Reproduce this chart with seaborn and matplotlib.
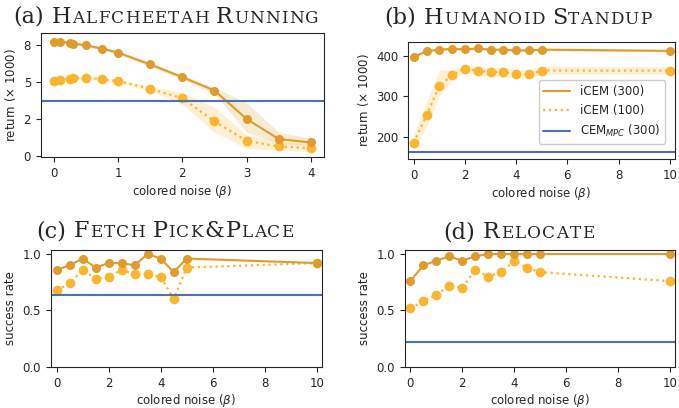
import numpy as np
import pandas as pd
import matplotlib
matplotlib.use("Agg")
import matplotlib.pyplot as plt
from matplotlib.lines import Line2D
import seaborn as sns

# ---- data ----
hc_beta = [0, 0.1, 0.25, 0.3, 0.5, 0.75, 1, 1.5, 2, 2.5, 3, 3.5, 4]
hc_icem300 = [7.73, 7.73, 7.68, 7.61, 7.5, 7.27, 7.0, 6.2, 5.34, 4.43, 2.5, 1.14, 0.91]
hc_icem300_lo = [7.63, 7.63, 7.58, 7.51, 7.4, 7.15, 6.88, 6.05, 5.2, 4.2, 1.6, 0.85, 0.7]
hc_icem300_hi = [7.83, 7.83, 7.78, 7.71, 7.6, 7.39, 7.12, 6.35, 5.48, 4.65, 3.6, 1.6, 1.2]
hc_icem100 = [5.11, 5.16, 5.2, 5.27, 5.3, 5.2, 5.07, 4.55, 3.91, 2.34, 1.02, 0.64, 0.52]
hc_icem100_lo = [5.01, 5.06, 5.1, 5.17, 5.2, 5.08, 4.95, 4.4, 3.5, 1.6, 0.5, 0.4, 0.3]
hc_icem100_hi = [5.21, 5.26, 5.3, 5.37, 5.4, 5.32, 5.19, 4.7, 4.3, 3.3, 1.4, 1.0, 0.75]
hc_cem = 3.70

hs_beta = [0, 0.5, 1, 1.5, 2, 2.5, 3, 3.5, 4, 4.5, 5, 10]
hs_icem300 = [398, 412, 416, 418, 417, 419, 416, 416, 414, 414, 416, 413]
hs_icem300_lo = [394, 409, 413, 415, 414, 416, 413, 413, 411, 411, 413, 410]
hs_icem300_hi = [402, 415, 419, 421, 420, 422, 419, 419, 417, 417, 419, 416]
hs_icem100 = [185, 253, 326, 352, 369, 363, 361, 360, 355, 355, 364, 364]
hs_icem100_lo = [165, 225, 300, 340, 360, 352, 350, 348, 345, 346, 354, 355]
hs_icem100_hi = [205, 285, 365, 366, 378, 374, 372, 372, 366, 365, 375, 373]
hs_cem = 161

pp_beta = [0, 0.5, 1, 1.5, 2, 2.5, 3, 3.5, 4, 4.5, 5, 10]
pp_icem300 = [0.86, 0.90, 0.96, 0.88, 0.92, 0.92, 0.90, 1.00, 0.96, 0.84, 0.96, 0.92]
pp_icem100 = [0.68, 0.74, 0.86, 0.78, 0.80, 0.86, 0.82, 0.82, 0.80, 0.60, 0.88, 0.92]
pp_cem = 0.64

rl_beta = [0, 0.5, 1, 1.5, 2, 2.5, 3, 3.5, 4, 4.5, 5, 10]
rl_icem300 = [0.76, 0.90, 0.94, 0.98, 0.94, 0.98, 1.0, 1.0, 1.0, 1.0, 1.0, 1.0]
rl_icem100 = [0.52, 0.58, 0.64, 0.72, 0.70, 0.86, 0.80, 0.84, 0.94, 0.88, 0.84, 0.76]
rl_cem = 0.22

C300 = "#df9c2c"
C100 = "#fbb52e"
CBLUE = "#4c72b0"

sns.set_style("ticks")
plt.rcParams["font.family"] = ["DejaVu Sans"]
plt.rcParams["font.size"] = 8.5

fig = plt.figure(figsize=(6.79, 4.08), dpi=100)
ax_a = fig.add_axes([0.060, 0.615, 0.417, 0.303])
ax_b = fig.add_axes([0.601, 0.610, 0.393, 0.288])
ax_c = fig.add_axes([0.075, 0.101, 0.399, 0.286])
ax_d = fig.add_axes([0.596, 0.101, 0.398, 0.286])


def draw_panel(ax, beta, y300, y100, cem, lo300=None, hi300=None, lo100=None, hi100=None):
    if lo300 is not None:
        ax.fill_between(beta, lo300, hi300, color=C300, alpha=0.2, lw=0)
    if lo100 is not None:
        ax.fill_between(beta, lo100, hi100, color=C100, alpha=0.2, lw=0)
    sns.lineplot(x=beta, y=y100, ax=ax, color=C100, linestyle=":", lw=1.6,
                 marker="o", markersize=7, markeredgewidth=0, errorbar=None)
    sns.lineplot(x=beta, y=y300, ax=ax, color=C300, linestyle="-", lw=1.5,
                 marker="o", markersize=6.5, markeredgewidth=0, errorbar=None)
    ax.axhline(cem, color=CBLUE, lw=1.5)
    ax.tick_params(labelsize=8.5, length=3.5, width=0.8)
    for s in ax.spines.values():
        s.set_linewidth(0.8)
    ax.set_xlabel(r"colored noise ($\beta$)", fontsize=8.5, labelpad=2)


draw_panel(ax_a, hc_beta, hc_icem300, hc_icem100, hc_cem,
           hc_icem300_lo, hc_icem300_hi, hc_icem100_lo, hc_icem100_hi)
ax_a.set_xlim(-0.2, 4.2)
ax_a.set_ylim(-0.08, 8.3)
ax_a.set_yticks([0, 2.5, 5, 7.5])
ax_a.set_yticklabels(["0", "2", "5", "8"])
ax_a.set_xticks([0, 1, 2, 3, 4])
ax_a.set_ylabel(r"return ($\times$ 1000)", fontsize=8.5)

draw_panel(ax_b, hs_beta, hs_icem300, hs_icem100, hs_cem,
           hs_icem300_lo, hs_icem300_hi, hs_icem100_lo, hs_icem100_hi)
ax_b.set_xlim(-0.22, 10.2)
ax_b.set_ylim(144, 436)
ax_b.set_yticks([200, 300, 400])
ax_b.set_xticks([0, 2, 4, 6, 8, 10])
ax_b.set_ylabel(r"return ($\times$ 1000)", fontsize=8.5)
handles = [Line2D([], [], color=C300, lw=1.5),
           Line2D([], [], color=C100, lw=1.6, ls=":"),
           Line2D([], [], color=CBLUE, lw=1.5)]
ax_b.legend(handles, ["iCEM (300)", "iCEM (100)", r"CEM$_{MPC}$ (300)"],
            loc="lower right", bbox_to_anchor=(0.985, 0.08), fontsize=8.5,
            handlelength=2.3, framealpha=1, edgecolor="#cccccc")

for ax, beta, y3, y1, cem in [(ax_c, pp_beta, pp_icem300, pp_icem100, pp_cem),
                              (ax_d, rl_beta, rl_icem300, rl_icem100, rl_cem)]:
    draw_panel(ax, beta, y3, y1, cem)
    ax.set_xlim(-0.22, 10.2)
    ax.set_ylim(0, 1.035)
    ax.set_yticks([0.0, 0.5, 1.0])
    ax.set_xticks([0, 2, 4, 6, 8, 10])
    ax.set_ylabel("success rate", fontsize=8.5)


def smallcaps_title(cx, baseline_px, label, title, size=16, track=1.2):
    # fake small caps: lowercase letters drawn as smaller capitals, one glyph at a time
    small = size * 0.76
    pieces = [(label, size), (" ", size)]
    for ch in title:
        if ch == " ":
            pieces.append((" ", size))
        else:
            pieces.append((ch.upper(), small if ch.islower() else size))
    renderer = fig.canvas.get_renderer()
    texts, widths = [], []
    for txt, fs in pieces:
        if txt == " ":
            texts.append(None)
            widths.append(fs * 0.28 * fig.dpi / 72)
            continue
        t = fig.text(0, 0, txt, fontsize=fs, family="DejaVu Serif",
                     ha="left", va="baseline")
        texts.append(t)
        widths.append(t.get_window_extent(renderer).width + track)
    total = sum(widths) - track
    x = cx - total / 2
    W, H = fig.bbox.width, fig.bbox.height
    for t, w in zip(texts, widths):
        if t is not None:
            t.set_position((x / W, 1 - baseline_px / H))
        x += w


smallcaps_title(166, 23, "(a)", "Halfcheetah Running")
smallcaps_title(518, 23.5, "(b)", "Humanoid Standup")
smallcaps_title(165, 237, "(c)", "Fetch Pick&Place")
smallcaps_title(519, 238, "(d)", "Relocate")

fig.savefig("out.png", dpi=100)
